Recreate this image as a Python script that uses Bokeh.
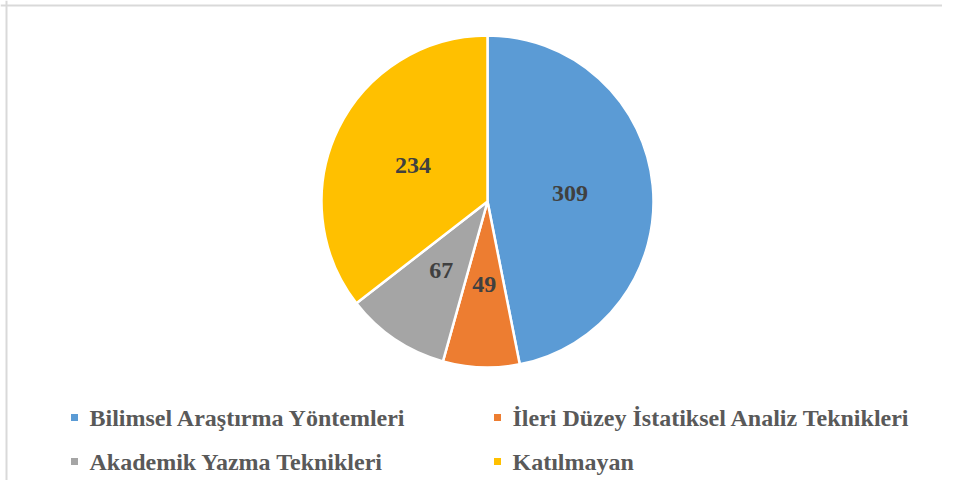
import math
from bokeh.plotting import figure
from bokeh.models import Range1d, ColumnDataSource, Span
from bokeh.core.properties import value
from bokeh.embed import file_html
from bokeh.resources import INLINE

# ---- data ----
categories = ["Bilimsel Araştırma Yöntemleri", "İleri Düzey İstatiksel Analiz Teknikleri",
              "Akademik Yazma Teknikleri", "Katılmayan"]
counts = [309, 49, 67, 234]
colors = ["#5B9BD5", "#ED7D31", "#A5A5A5", "#FFC000"]

# ---- layout ----
W, H = 942, 480
cx, cy, R = 487, H - 201, 166
FONT = value("Liberation Serif")

total = sum(counts)
starts, ends, lx, ly = [], [], [], []
cum = 0.0
for c in counts:
    a0 = math.pi / 2 - 2 * math.pi * cum / total
    cum += c
    a1 = math.pi / 2 - 2 * math.pi * cum / total
    starts.append(a0)
    ends.append(a1)
    mid = (a0 + a1) / 2
    lx.append(cx + 0.5 * R * math.cos(mid))
    ly.append(cy + 0.5 * R * math.sin(mid))

src = ColumnDataSource(dict(start=starts, end=ends, color=colors,
                            lx=lx, ly=ly, txt=[str(c) for c in counts],
                            cat=categories))

p = figure(width=W, height=H, x_range=Range1d(0, W), y_range=Range1d(0, H),
           output_backend="svg", toolbar_location=None, min_border=0)
p.axis.visible = False
p.grid.visible = False
p.outline_line_color = None
p.background_fill_color = "white"

p.wedge(x=cx, y=cy, radius=R, start_angle="start", end_angle="end",
        direction="clock", fill_color="color", line_color="white",
        line_width=2.5, source=src)

p.text(x="lx", y="ly", text="txt", source=src, text_align="center",
       text_baseline="middle", text_font=FONT,
       text_font_style="bold", text_font_size="24px", text_color="#404040")

# legend (2 columns x 2 rows)
sq_x = [74, 497, 74, 497]
row_y = [H - 417, H - 417, H - 461, H - 461]
src_leg = ColumnDataSource(dict(sx=sq_x, sy=row_y, tx=[x + 15 for x in sq_x],
                                color=colors, cat=categories))
p.rect(x="sx", y="sy", width=7, height=7, fill_color="color", line_color=None,
       source=src_leg)
p.text(x="tx", y="sy", text="cat", source=src_leg, text_align="left",
       text_baseline="middle", text_font=FONT,
       text_font_style="bold", text_font_size="24px", text_color="#595959")

p.add_layout(Span(location=6, dimension="height", line_color="#d9d9d9", line_width=2))
p.add_layout(Span(location=H - 5, dimension="width", line_color="#d9d9d9", line_width=2))

open("out.html", "w").write(file_html(p, INLINE))
